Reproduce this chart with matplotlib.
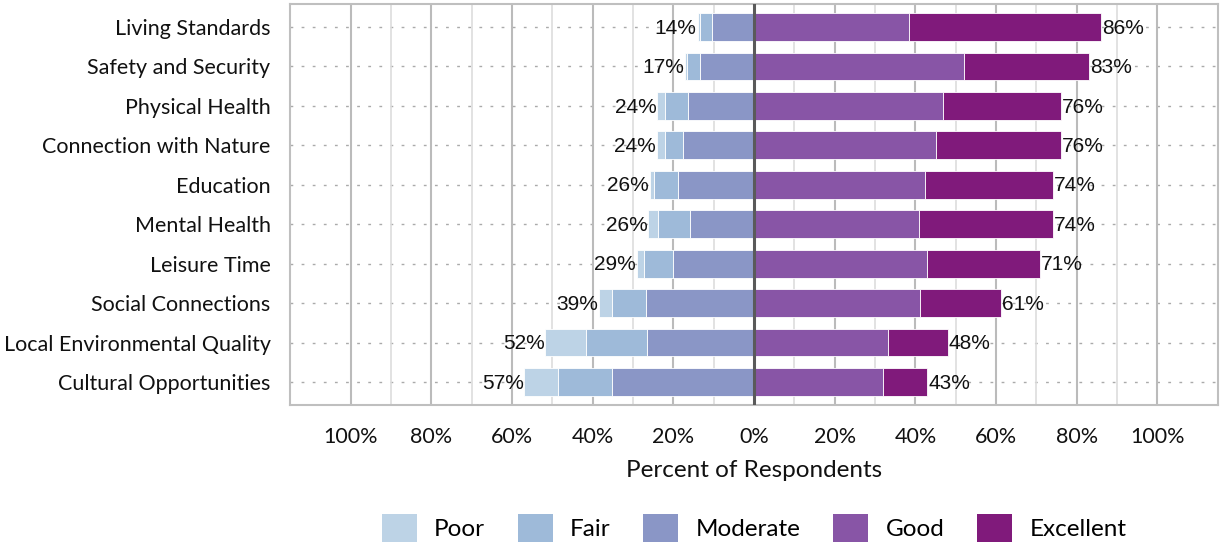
import matplotlib
matplotlib.use("Agg")
import matplotlib.pyplot as plt
import numpy as np
from matplotlib.patches import Patch

categories = ["Living Standards", "Safety and Security", "Physical Health",
              "Connection with Nature", "Education", "Mental Health",
              "Leisure Time", "Social Connections", "Local Environmental Quality",
              "Cultural Opportunities"]
poor =     [0.7, 0.6, 1.9, 2.1, 1.1, 2.3, 1.8, 3.4, 10.0, 8.2]
fair =     [3.0, 3.1, 5.8, 4.4, 5.9, 8.0, 7.2, 8.4, 15.2, 13.6]
moderate = [10.3, 13.4, 16.3, 17.6, 18.8, 15.9, 20.0, 26.7, 26.5, 35.1]
good =     [38.5, 52.0, 46.8, 45.0, 42.5, 40.8, 42.9, 41.2, 33.2, 32.0]
excellent = [47.5, 31.0, 29.2, 31.0, 31.5, 33.2, 28.1, 20.0, 14.9, 11.0]
neg_labels = ["14%", "17%", "24%", "24%", "26%", "26%", "29%", "39%", "52%", "57%"]
pos_labels = ["86%", "83%", "76%", "76%", "74%", "74%", "71%", "61%", "48%", "43%"]
tick_vals = [-100, -80, -60, -40, -20, 0, 20, 40, 60, 80, 100]
tick_labels = ["100%", "80%", "60%", "40%", "20%", "0%", "20%", "40%", "60%", "80%", "100%"]
series_names = ["Poor", "Fair", "Moderate", "Good", "Excellent"]
colors = ["#BDD3E6", "#9EBAD9", "#8A96C6", "#8855A6", "#801A7B"]

W, H = 1222, 546
fig = plt.figure(figsize=(W / 100, H / 100), dpi=100)
ax = fig.add_axes([290 / W, 1 - 405 / H, (1218 - 290) / W, (405 - 4) / H])

y = np.arange(len(categories))
mod = np.array(moderate)
fa = np.array(fair)
po = np.array(poor)
gd = np.array(good)
ex = np.array(excellent)
h = 0.7
ekw = dict(edgecolor="white", linewidth=0.6, zorder=3)
ax.barh(y, -mod, height=h, color=colors[2], **ekw)
ax.barh(y, -fa, left=-mod, height=h, color=colors[1], **ekw)
ax.barh(y, -po, left=-mod - fa, height=h, color=colors[0], **ekw)
ax.barh(y, gd, height=h, color=colors[3], **ekw)
ax.barh(y, ex, left=gd, height=h, color=colors[4], **ekw)

lab_font = dict(family="Liberation Sans", fontsize=15, color="#111111")
for i in range(len(categories)):
    lt = mod[i] + fa[i] + po[i]
    rt = gd[i] + ex[i]
    ax.text(-lt - 0.2, y[i] + 0.03, neg_labels[i], ha="right", va="center", zorder=5, **lab_font)
    ax.text(rt + 0.2, y[i] + 0.03, pos_labels[i], ha="left", va="center", zorder=5, **lab_font)

ax.set_xlim(-115, 115)
ax.set_ylim(len(categories) - 1 + 0.58, -0.58)

# gridlines
for v in range(-100, 101, 10):
    if v == 0:
        continue
    if v % 20 == 0:
        ax.axvline(v, color="#BBBBBB", lw=1.5, zorder=1)
    else:
        ax.axvline(v, color="#DDDDDD", lw=1.2, zorder=1)
for yy in y:
    ax.axhline(yy, color="#AAAAAA", lw=1.0, ls=(0, (2, 6)), zorder=0.5)
ax.axvline(0, color="#5A5A5A", lw=2.2, zorder=4)

ax.set_xticks(tick_vals)
ax.set_xticklabels(tick_labels, family="Lato", fontsize=15.5)
ax.set_yticks(y)
ax.set_yticklabels(categories, family="Lato", fontsize=15.5)
ax.tick_params(axis="both", length=0, colors="#111111")
ax.tick_params(axis="x", pad=16)
ax.tick_params(axis="y", pad=14)
for s in ax.spines.values():
    s.set_color("#BFBFBF")
    s.set_linewidth(1.5)

ax.set_xlabel("Percent of Respondents", family="Lato", fontsize=17.5, labelpad=9, color="#111111")

handles = [Patch(facecolor=c, edgecolor="none") for c in colors]
fig.legend(handles, series_names, loc="upper center", bbox_to_anchor=(754 / W, 1 - 492 / H),
           ncol=5, frameon=False, prop=dict(family="Lato", size=17.5),
           handlelength=1.44, handleheight=1.4, handletextpad=0.7, columnspacing=1.36,
           borderpad=0.4)

fig.savefig("out.png", dpi=100)
